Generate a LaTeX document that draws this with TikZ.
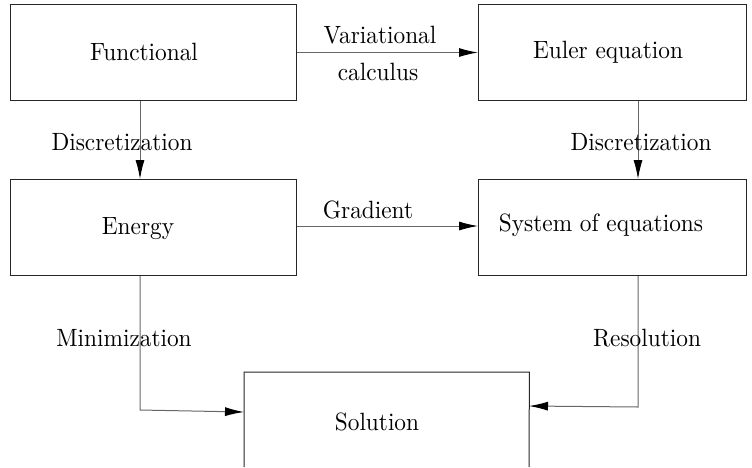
\documentclass[tikz,border=0pt]{standalone}
\usepackage{graphicx}
\usetikzlibrary{arrows.meta}
\newcommand{\tx}[1]{\scalebox{2.33}[2.5]{\normalsize #1}}
\tikzset{
  box/.style={draw=black!85, line width=1pt, minimum width=286pt, minimum height=96pt, inner sep=0pt, anchor=north west},
  conn/.style={draw=black!60, line width=1pt, -{Latex[length=19pt,width=9pt,color=black]}},
  lbl/.style={inner sep=0pt}
}
\begin{document}
\begin{tikzpicture}[x=1pt,y=-1pt]
\useasboundingbox (0,0) rectangle (752,467);
\node[box] (fun) at (10,4) {};
\node[box, minimum width=268pt] (eul) at (478,4) {};
\node[box] (ene) at (10,179) {};
\node[box, minimum width=268pt] (sys) at (478,179) {};
\node[inner sep=0pt, minimum width=285pt, minimum height=95pt, anchor=north west] (sol) at (244,372) {};
\draw[draw=black!85, line width=1pt] (244,467) -- (sol.north west) -- (sol.north east) -- (529,467);
\node[lbl] at (144,52) {\tx{Functional}};
\node[lbl] at (608,52) {\tx{Euler equation}};
\node[lbl] at (138,229) {\tx{Energy}};
\node[lbl] at (601,225) {\tx{System of equations}};
\node[lbl] at (377,422) {\tx{Solution}};
% connectors
\draw[conn] (fun.east) -- (eul.west);
\draw[conn] (fun.south west) ++(130,0) coordinate (a1) -- (a1 |- ene.north);
\draw[conn] (eul.south west) ++(160,0) coordinate (a2) -- (a2 |- sys.north);
\draw[conn] (ene.east |- 0,226) coordinate (a3) -- (a3 -| sys.west);
\coordinate (m1) at (140,410);
\coordinate (m2) at (244,412);
\coordinate (r1) at (638,407);
\coordinate (r2) at (529,406);
\draw[conn] (ene.south west) ++(130,0) -- (m1) -- (m2);
\draw[conn] (sys.south west) ++(160,0) -- (r1) -- (r2);
% labels
\node[lbl] at (380,35) {\tx{Variational}};
\node[lbl] at (378,72) {\tx{calculus}};
\node[lbl] at (122,142) {\tx{Discretization}};
\node[lbl] at (641,142) {\tx{Discretization}};
\node[lbl] at (368,210) {\tx{Gradient}};
\node[lbl] at (124,338) {\tx{Minimization}};
\node[lbl] at (647,338) {\tx{Resolution}};
\end{tikzpicture}
\end{document}
